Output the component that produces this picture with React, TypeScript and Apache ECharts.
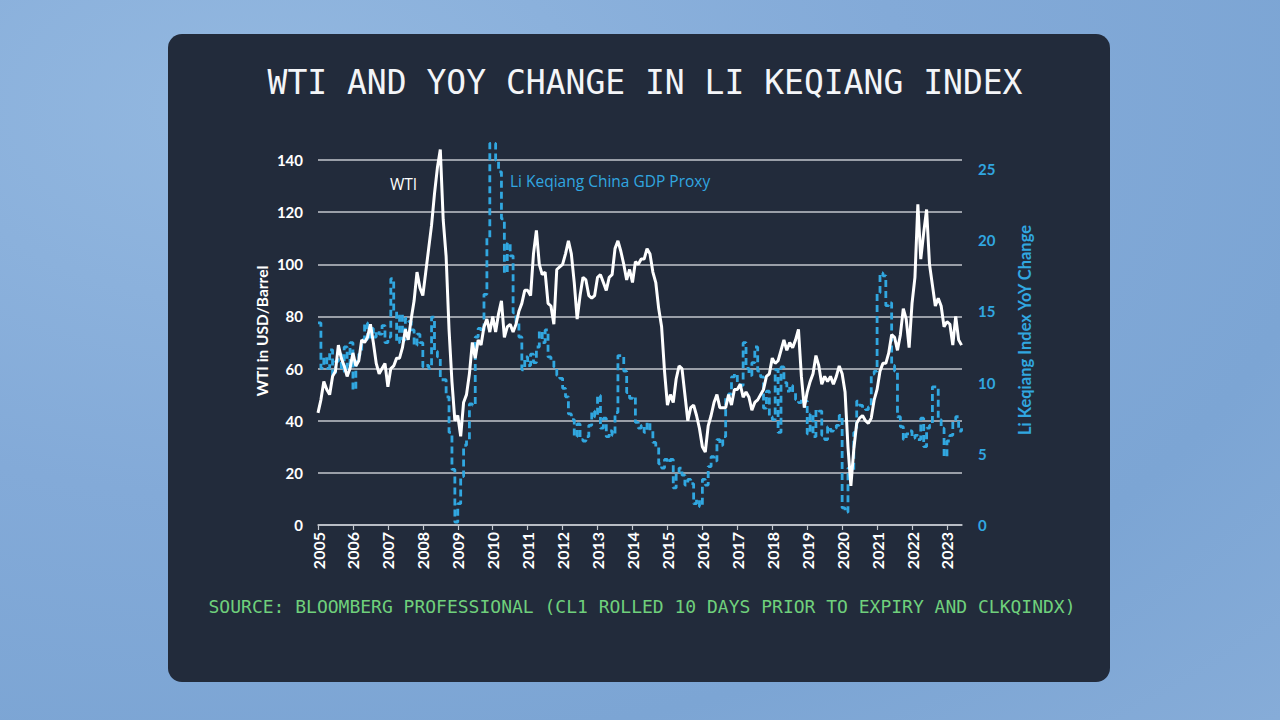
import React, { useEffect, useRef } from "react";
import * as echarts from "echarts";

const titleText = "WTI AND YOY CHANGE IN LI KEQIANG INDEX";
const sourceText = "SOURCE: BLOOMBERG PROFESSIONAL (CL1 ROLLED 10 DAYS PRIOR TO EXPIRY AND CLKQINDX)";
const leftAxisName = "WTI in USD/Barrel";
const rightAxisName = "Li Keqiang Index YoY Change";
const wtiLabel = "WTI";
const liLabel = "Li Keqiang China GDP Proxy";

const startYear = 2005;

// WTI, USD/barrel, monthly Jan 2005 - Jun 2023
const wti2005 = [43, 48, 55, 52, 50, 57, 59, 69, 64, 61, 57, 60];
const wti2006 = [66, 61, 63, 71, 70, 72, 77, 70, 62, 58, 60, 62];
const wti2007 = [53, 60, 61, 64, 64, 68, 75, 71, 79, 86, 97, 91];
const wti2008 = [88, 97, 106, 115, 127, 137, 144, 117, 103, 75, 55, 40];
const wti2009 = [42, 34, 47, 50, 58, 70, 64, 71, 69, 76, 79, 74];
const wti2010 = [80, 74, 81, 86, 72, 76, 77, 74, 77, 82, 85, 90];
const wti2011 = [90, 88, 104, 113, 100, 96, 97, 85, 84, 77, 98, 99];
const wti2012 = [100, 104, 109, 104, 93, 79, 88, 95, 94, 88, 87, 88];
const wti2013 = [95, 96, 93, 90, 95, 96, 106, 109, 105, 100, 94, 98];
const wti2014 = [93, 101, 100, 102, 102, 106, 104, 97, 93, 83, 76, 59];
const wti2015 = [46, 50, 47, 56, 61, 60, 50, 40, 45, 46, 42, 37];
const wti2016 = [30, 28, 38, 42, 47, 50, 45, 45, 45, 50, 46, 52];
const wti2017 = [52, 54, 49, 51, 49, 44, 47, 48, 50, 52, 57, 58];
const wti2018 = [64, 62, 63, 67, 71, 67, 70, 68, 71, 75, 57, 45];
const wti2019 = [51, 55, 58, 65, 61, 54, 57, 55, 57, 54, 57, 61];
const wti2020 = [58, 51, 30, 15, 29, 39, 41, 42, 40, 39, 41, 48];
const wti2021 = [52, 59, 62, 62, 66, 73, 72, 67, 73, 83, 79, 68];
const wti2022 = [85, 95, 123, 102, 112, 121, 100, 92, 84, 87, 84, 76];
const wti2023 = [78, 77, 69, 80, 71, 69];

// Li Keqiang index, YoY %, monthly Jan 2005 - Jun 2023
const li2005 = [14.2, 11.0, 11.8, 11.0, 12.3, 10.5, 11.5, 12.0, 10.8, 12.5, 11.0, 12.8];
const li2006 = [9.5, 11.5, 12.0, 13.0, 14.2, 13.0, 13.8, 13.2, 13.6, 13.4, 14.0, 12.8];
const li2007 = [13.2, 17.3, 15.0, 12.8, 14.8, 13.0, 14.5, 14.3, 13.7, 12.6, 13.4, 12.8];
const li2008 = [11.1, 11.2, 11.0, 14.6, 12.2, 11.8, 10.2, 10.2, 9.0, 6.5, 3.9, 0.2];
const li2009 = [1.5, 3.4, 5.6, 6.0, 8.5, 8.4, 13.2, 13.8, 13.6, 16.2, 20.2, 26.8];
const li2010 = [26.8, 25.6, 24.8, 21.5, 17.7, 19.8, 18.9, 14.9, 14.2, 13.2, 10.9, 11.8];
const li2011 = [11.2, 12.0, 11.4, 12.5, 13.6, 12.8, 13.7, 11.8, 11.6, 11.1, 10.5, 10.3];
const li2012 = [9.6, 9.0, 7.8, 7.4, 6.2, 7.1, 6.0, 5.9, 6.2, 7.0, 8.0, 7.6];
const li2013 = [9.1, 6.8, 7.5, 6.2, 6.6, 6.3, 7.9, 11.9, 11.9, 10.8, 9.3, 8.9];
const li2014 = [9.0, 7.2, 6.8, 7.0, 6.5, 7.2, 6.6, 5.8, 5.5, 4.3, 4.0, 4.6];
const li2015 = [4.4, 4.6, 2.6, 3.7, 4.0, 3.5, 2.8, 3.2, 2.9, 1.5, 1.8, 1.3];
const li2016 = [3.2, 2.8, 4.1, 4.8, 4.5, 6.0, 5.6, 6.2, 9.0, 9.2, 10.4, 10.6];
const li2017 = [10.0, 9.8, 12.8, 11.0, 10.5, 11.4, 12.5, 10.8, 10.4, 8.2, 9.4, 7.6];
const li2018 = [7.4, 10.9, 6.5, 11.1, 10.0, 9.4, 9.8, 9.3, 8.8, 8.6, 8.9, 8.7];
const li2019 = [6.4, 7.8, 6.2, 8.1, 8.0, 6.3, 6.0, 6.9, 6.6, 6.8, 7.0, 7.7];
const li2020 = [1.2, 0.9, 4.0, 3.8, 6.5, 8.7, 8.4, 8.2, 8.1, 8.3, 10.6, 10.8];
const li2021 = [16.3, 17.7, 17.5, 15.4, 15.6, 11.2, 10.8, 7.6, 6.9, 6.0, 6.4, 6.6];
const li2022 = [6.1, 6.3, 6.0, 7.5, 5.5, 6.8, 7.0, 9.7, 9.7, 7.4, 6.8, 4.8];
const li2023 = [5.9, 6.3, 7.4, 7.6, 6.6, 6.8];

const wtiValues = [
  ...wti2005, ...wti2006, ...wti2007, ...wti2008, ...wti2009, ...wti2010,
  ...wti2011, ...wti2012, ...wti2013, ...wti2014, ...wti2015, ...wti2016,
  ...wti2017, ...wti2018, ...wti2019, ...wti2020, ...wti2021, ...wti2022, ...wti2023,
];
const liValues = [
  ...li2005, ...li2006, ...li2007, ...li2008, ...li2009, ...li2010,
  ...li2011, ...li2012, ...li2013, ...li2014, ...li2015, ...li2016,
  ...li2017, ...li2018, ...li2019, ...li2020, ...li2021, ...li2022, ...li2023,
];

const BLUE = "#31a7e0";
const WHITE = "#ffffff";
const GRID = "#c3c7ce";

export default function App() {
  const ref = useRef<HTMLDivElement>(null);

  useEffect(() => {
    if (!ref.current) return;
    const chart = echarts.init(ref.current, undefined, { renderer: "svg" });
    const toX = (i: number) => startYear + i / 12;
    const wtiData = wtiValues.map((v, i) => [toX(i), v]);
    const liData = liValues.map((v, i) => [toX(i), v]);

    chart.setOption({
      animation: false,
      backgroundColor: "transparent",
      grid: { left: 318, right: 318, top: 160, bottom: 195, containLabel: false },
      xAxis: {
        type: "value",
        min: 2005,
        max: 2023.43,
        interval: 1,
        axisLine: { show: true, lineStyle: { color: GRID, width: 1.5 } },
        axisTick: { show: true, length: 5, lineStyle: { color: GRID, width: 1.2 } },
        splitLine: { show: false },
        axisLabel: {
          rotate: 90,
          color: WHITE,
          fontFamily: "Lato",
          fontWeight: "bold",
          fontSize: 16,
          margin: 7,
          showMaxLabel: false,
          formatter: (v: number) => String(Math.round(v)),
        },
      },
      yAxis: [
        {
          type: "value",
          min: 0,
          max: 140,
          interval: 20,
          axisLine: { show: false },
          axisTick: { show: false },
          splitLine: { show: true, lineStyle: { color: GRID, width: 1.5 } },
          axisLabel: {
            color: WHITE,
            fontFamily: "Lato",
            fontWeight: "bold",
            fontSize: 15,
            margin: 15,
          },
        },
        {
          type: "value",
          min: 0,
          max: 25.63,
          interval: 5,
          axisLine: { show: false },
          axisTick: { show: false },
          splitLine: { show: false },
          axisLabel: {
            color: BLUE,
            fontFamily: "Lato",
            fontWeight: "bold",
            fontSize: 15,
            margin: 16,
            showMaxLabel: false,
          },
        },
      ],
      series: [
        {
          name: liLabel,
          type: "line",
          yAxisIndex: 1,
          data: liData,
          step: "end",
          showSymbol: false,
          clip: false,
          lineStyle: { color: BLUE, width: 2.8, type: [7, 4] },
          z: 2,
        },
        {
          name: wtiLabel,
          type: "line",
          yAxisIndex: 0,
          data: wtiData,
          showSymbol: false,
          clip: false,
          lineStyle: { color: WHITE, width: 3 },
          z: 3,
        },
      ],
      graphic: [
        {
          type: "text",
          x: 645,
          y: 82,
          style: {
            text: titleText,
            fill: "#f3f5f8",
            font: "normal 33px 'DejaVu Sans Mono'",
            textAlign: "center",
            textVerticalAlign: "middle",
          },
        },
        {
          type: "text",
          x: 642,
          y: 606,
          style: {
            text: sourceText,
            fill: "#6fd07c",
            font: "normal 18px 'DejaVu Sans Mono'",
            textAlign: "center",
            textVerticalAlign: "middle",
          },
        },
        {
          type: "text",
          x: 262,
          y: 331,
          rotation: Math.PI / 2,
          style: {
            text: leftAxisName,
            fill: WHITE,
            font: "bold 15.5px Lato",
            textAlign: "center",
            textVerticalAlign: "middle",
          },
        },
        {
          type: "text",
          x: 1025,
          y: 330,
          rotation: Math.PI / 2,
          style: {
            text: rightAxisName,
            fill: BLUE,
            font: "bold 16.5px Lato",
            textAlign: "center",
            textVerticalAlign: "middle",
          },
        },
        {
          type: "text",
          x: 390,
          y: 184,
          style: {
            text: wtiLabel,
            fill: WHITE,
            font: "normal 15.5px 'Open Sans'",
            textAlign: "left",
            textVerticalAlign: "middle",
          },
        },
        {
          type: "text",
          x: 510,
          y: 181,
          style: {
            text: liLabel,
            fill: BLUE,
            font: "normal 15.5px 'Open Sans'",
            textAlign: "left",
            textVerticalAlign: "middle",
          },
        },
      ],
    });
    return () => chart.dispose();
  }, []);

  return (
    <div
      style={{
        position: "fixed",
        left: 0,
        top: 0,
        width: 1280,
        height: 720,
        background:
          "radial-gradient(ellipse at 20% 15%, #93b8e0 0%, #83aad8 45%, #7ca5d4 75%, #86acd8 100%)",
        overflow: "hidden",
      }}
    >
      <div
        style={{
          position: "absolute",
          left: 168,
          top: 34,
          width: 942,
          height: 648,
          borderRadius: 14,
          background: "#222b3b",
        }}
      />
      <div ref={ref} style={{ position: "absolute", left: 0, top: 0, width: 1280, height: 720 }} />
    </div>
  );
}
